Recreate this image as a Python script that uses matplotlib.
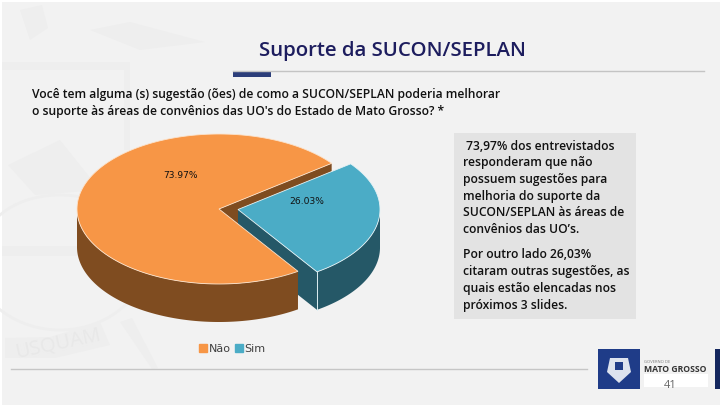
import numpy as np
import matplotlib
matplotlib.use("Agg")
import matplotlib.pyplot as plt
from matplotlib.patches import Patch, Rectangle, Polygon, Arc

categories = ["Não", "Sim"]
values = [73.97, 26.03]
colors_top = ["#F79646", "#4BACC6"]
colors_side = ["#7F4C20", "#255867"]
title = "Suporte da SUCON/SEPLAN"
question = ["Você tem alguma (s) sugestão (ões) de como a SUCON/SEPLAN poderia melhorar",
            "o suporte às áreas de convênios das UO's do Estado de Mato Grosso? *"]
para1 = [" 73,97% dos entrevistados", "responderam que não", "possuem sugestões para",
         "melhoria do suporte da", "SUCON/SEPLAN às áreas de", "convênios das UO’s."]
para2 = ["Por outro lado 26,03%", "citaram outras sugestões, as", "quais estão elencadas nos",
         "próximos 3 slides."]

plt.rcParams["font.family"] = ["Open Sans", "DejaVu Sans"]
fig = plt.figure(figsize=(7.2, 4.05), dpi=100, facecolor="#F2F2F2")
ax = fig.add_axes([0, 0, 1, 1])
ax.set_xlim(0, 720); ax.set_ylim(405, 0); ax.axis("off")

# page frame
ax.add_patch(Rectangle((0, 0), 720, 2, color="white", lw=0))
ax.add_patch(Rectangle((0, 0), 2, 405, color="white", lw=0))

# faint watermark
wm = "#EEEEEE"
ax.add_patch(Polygon([(2, 62), (130, 62), (130, 150), (124, 150), (124, 70), (2, 70)], color=wm, lw=0))
ax.add_patch(Polygon([(2, 246), (85, 246), (85, 256), (2, 256)], color=wm, lw=0))
ax.add_patch(Polygon([(20, 10), (42, 5), (48, 28), (30, 40)], color=wm, lw=0))
ax.add_patch(Polygon([(90, 30), (130, 22), (205, 42), (140, 50)], color=wm, lw=0))
ax.add_patch(Polygon([(8, 165), (60, 140), (100, 190), (35, 195)], color=wm, lw=0))
ax.add_patch(Arc((60, 245), 150, 100, theta1=190, theta2=300, color=wm, lw=2))
ax.add_patch(Arc((60, 250), 180, 160, theta1=20, theta2=170, color=wm, lw=2))
ax.add_patch(Polygon([(5, 338), (50, 337), (100, 322), (110, 345), (55, 358), (5, 358)], color=wm, lw=0))
ax.add_patch(Polygon([(120, 322), (132, 318), (158, 368), (152, 369)], color=wm, lw=0))
ax.text(58, 344, "USQUAM", fontsize=14.5, color="#E8E8E8", rotation=12, ha="center", va="center")

# header
ax.text(392, 51, title, fontsize=14.7, color="#1D1D5E", ha="center", va="center", fontweight="semibold")
ax.plot([233, 704], [71, 71], color="#C4C4C4", lw=1)
ax.add_patch(Rectangle((233, 71), 38, 5.5, color="#2C3E7A", lw=0))
ax.text(32, 94.5, question[0], fontsize=8.75, color="#111111", va="center", fontweight="semibold")
ax.text(32, 111.5, question[1], fontsize=8.75, color="#111111", va="center", fontweight="semibold")

# pie geometry (pixel layout)
cx, cy, rx, ry, depth = 219, 209, 142, 75, 38
explode = (19, 0.5)
start = 37.5
sweeps = [v / sum(values) * 360 for v in values]


def pt(a, ox=0, oy=0, d=0):
    a = np.radians(a)
    return cx + ox + rx * np.cos(a), cy + oy - ry * np.sin(a) + d


def arc(a0, a1, ox=0, oy=0, d=0, n=160):
    x, y = pt(np.linspace(a0, a1, n), ox, oy, d)
    return np.c_[x, y]


a0, a1 = start, start + sweeps[0]      # Não
b0, b1 = a1, a1 + sweeps[1]            # Sim

# Não: cut wall behind the separated slice
p = pt(a0)
ax.add_patch(Polygon([(cx, cy), p, (p[0], p[1] + depth), (cx, cy + depth)], color=colors_side[0], lw=0))

# Sim: walls, then top
ox, oy = explode
q = pt(b0, ox, oy)
ax.add_patch(Polygon([(cx + ox, cy + oy), q, (q[0], q[1] + depth), (cx + ox, cy + oy + depth)],
                     color=colors_side[1], lw=0))
rim = arc(b0, 360, ox, oy)
ax.add_patch(Polygon(np.r_[rim, rim[::-1] + [0, depth]], color=colors_side[1], lw=0))
ax.plot([q[0], q[0]], [q[1], q[1] + depth], color="#DDEEF2", lw=0.7)
ax.add_patch(Polygon(np.r_[[(cx + ox, cy + oy)], arc(b0, b1, ox, oy)], fc=colors_top[1], ec="#E6F3F6", lw=0.6))

# Não: outer wall and top
rim = arc(180, a1)
ax.add_patch(Polygon(np.r_[rim, rim[::-1] + [0, depth]], color=colors_side[0], lw=0))
ax.add_patch(Polygon(np.r_[[(cx, cy)], arc(a0, a1)], fc=colors_top[0], ec="#FCE3CC", lw=0.6))

# data labels
for i, (lx, ly) in enumerate([(181, 176), (307, 202)]):
    ax.text(lx, ly, f"{values[i]:.2f}%", fontsize=6.6, color="#111111", ha="center", va="center",
            family=["DejaVu Sans"])

# legend
handles = [Patch(color=c, label=l) for c, l in zip(colors_top, categories)]
ax.legend(handles=handles, loc="center left", bbox_to_anchor=(199 / 720, 1 - 349 / 405), ncol=2, frameon=False,
          handlelength=0.75, handleheight=0.75, handletextpad=0.1, columnspacing=0.4,
          borderpad=0, borderaxespad=0, labelcolor="#404040", prop={"family": ["DejaVu Sans"], "size": 8})

# text box
ax.add_patch(Rectangle((454, 133), 182, 186, color="#E3E3E3", lw=0))
for lines, y0 in [(para1, 146), (para2, 255)]:
    for i, s in enumerate(lines):
        ax.text(463, y0 + i * 16.75, s, fontsize=8.7, color="#111111", va="center", fontweight="semibold")

# footer
ax.plot([11, 587], [369, 369], color="#C6C6C6", lw=1)
ax.add_patch(Rectangle((598, 349), 42, 40, color="#1F3C88", lw=0))
ax.add_patch(Polygon([(610, 358), (628, 358), (631, 372), (619, 383), (607, 372)], color="#DDE3EE", lw=0))
ax.add_patch(Rectangle((615, 362), 8, 8, color="#1F3C88", lw=0))
ax.add_patch(Rectangle((715, 349), 5, 40, color="#14275E", lw=0))
ax.add_patch(Rectangle((644, 374), 64, 13, color="white", lw=0))
ax.text(644, 362, "GOVERNO DE", fontsize=3, color="#777777", va="center")
ax.text(644, 369, "MATO GROSSO", fontsize=6.2, color="#333333", va="center", fontweight="bold")
ax.text(670, 386, "41", fontsize=8, color="#666666", ha="center", va="center")

fig.savefig("out.png", dpi=100, facecolor=fig.get_facecolor())
